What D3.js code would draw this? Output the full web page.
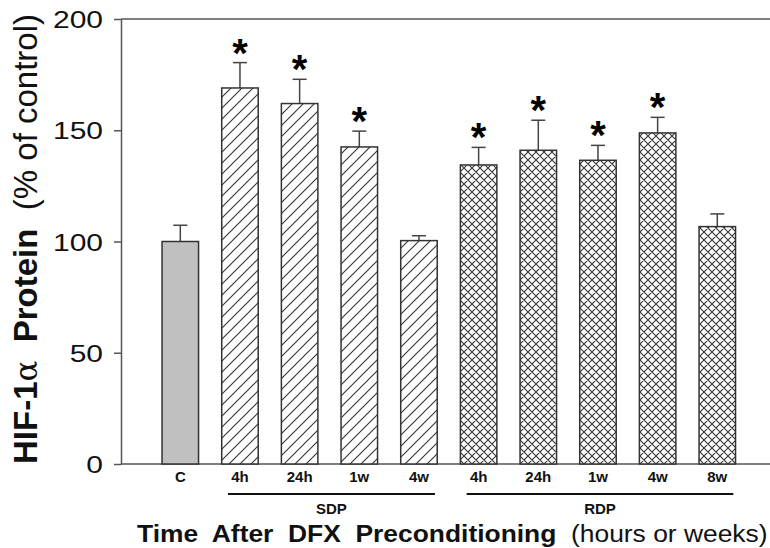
<!DOCTYPE html>
<html>
<head>
<meta charset="utf-8">
<script src="https://cdn.jsdelivr.net/npm/d3@7"></script>
<style>
  body { margin: 0; background: #fff; }
  svg { display: block; font-family: "Liberation Sans", Arial, sans-serif; }
</style>
</head>
<body>
<div id="chart"></div>
<script>
// chart values
const labels = ["C", "4h", "24h", "1w", "4w", "4h", "24h", "1w", "4w", "8w"];
const groups = ["C", "SDP", "SDP", "SDP", "SDP", "RDP", "RDP", "RDP", "RDP", "RDP"];
const means = [100, 169, 162, 142.5, 100.4, 134.4, 141, 136.5, 148.8, 106.7];
const errors = [7.3, 11.4, 10.9, 7.1, 2.2, 7.9, 13.5, 6.7, 7.0, 5.7];
const significant = [false, true, true, true, false, true, true, true, true, false];
const groupNames = ["SDP", "RDP"];
const yTicks = [0, 50, 100, 150, 200];

const width = 770, height = 548;
const plotLeft = 121, plotRight = 770, plotTop = 19, plotBottom = 464;

const svg = d3.select("#chart").append("svg")
    .attr("width", width)
    .attr("height", height);

// patterns for the two treatment groups
const defs = svg.append("defs");
const diag = defs.append("pattern")
    .attr("id", "diag")
    .attr("patternUnits", "userSpaceOnUse")
    .attr("width", 11).attr("height", 11);
diag.append("rect").attr("width", 11).attr("height", 11).attr("fill", "#fff");
diag.append("path")
    .attr("d", "M-3,3 l6,-6 M0,11 l11,-11 M8,14 l6,-6")
    .attr("stroke", "#333").attr("stroke-width", 1.1);

const cross = defs.append("pattern")
    .attr("id", "cross")
    .attr("patternUnits", "userSpaceOnUse")
    .attr("width", 8).attr("height", 8);
cross.append("rect").attr("width", 8).attr("height", 8).attr("fill", "#fff");
cross.append("path")
    .attr("d", "M-2,2 l4,-4 M0,8 l8,-8 M6,10 l4,-4 M-2,6 l4,4 M0,0 l8,8 M6,-2 l4,4")
    .attr("stroke", "#333").attr("stroke-width", 1.1);

const fillFor = g => g === "C" ? "#c0c0c0" : (g === "SDP" ? "url(#diag)" : "url(#cross)");

const x = d3.scalePoint()
    .domain(d3.range(labels.length))
    .range([180.3, 717.3]);
const barW = 36.5;

const y = d3.scaleLinear()
    .domain([0, 200])
    .range([plotBottom, plotTop]);

// frame: top line and bottom axis line
svg.append("line")
    .attr("x1", plotLeft).attr("x2", plotRight)
    .attr("y1", y(200)).attr("y2", y(200))
    .attr("stroke", "#555").attr("stroke-width", 1.5);
svg.append("line")
    .attr("x1", plotLeft).attr("x2", plotRight)
    .attr("y1", y(0)).attr("y2", y(0))
    .attr("stroke", "#555").attr("stroke-width", 1.5);

// y axis
const yAxis = svg.append("g")
    .attr("transform", `translate(${plotLeft},0)`)
    .call(d3.axisLeft(y).tickValues(yTicks).tickSize(7).tickSizeOuter(0));
yAxis.select(".domain").attr("stroke", "#555").attr("stroke-width", 1.5);
yAxis.selectAll(".tick line").attr("stroke", "#555").attr("stroke-width", 1.5);
yAxis.selectAll(".tick text")
    .attr("x", 0)
    .attr("dy", "0.36em")
    .attr("transform", "translate(-18,0) scale(1.25,1)")
    .style("font-size", "24px")
    .style("font-family", "Liberation Sans, Arial, sans-serif")
    .attr("fill", "#111");

// error bars (upper only)
const err = svg.append("g");
means.forEach((m, i) => {
    err.append("line")
        .attr("x1", x(i)).attr("x2", x(i))
        .attr("y1", y(m)).attr("y2", y(m + errors[i]))
        .attr("stroke", "#444").attr("stroke-width", 1.5);
    err.append("line")
        .attr("x1", x(i) - 7).attr("x2", x(i) + 7)
        .attr("y1", y(m + errors[i])).attr("y2", y(m + errors[i]))
        .attr("stroke", "#444").attr("stroke-width", 1.5);
});

// bars
svg.append("g").selectAll("rect")
    .data(means)
    .join("rect")
    .attr("x", (d, i) => x(i) - barW / 2)
    .attr("y", d => y(d))
    .attr("width", barW)
    .attr("height", d => y(0) - y(d))
    .attr("fill", (d, i) => fillFor(groups[i]))
    .attr("stroke", "#333")
    .attr("stroke-width", 1.5);

// significance stars
svg.append("g").selectAll("text")
    .data(means.map((m, i) => i).filter(i => significant[i]))
    .join("text")
    .attr("x", i => x(i))
    .attr("y", i => y(means[i] + errors[i]) + 4)
    .attr("text-anchor", "middle")
    .style("font-size", "40px")
    .style("font-weight", "bold")
    .text("*");

// category labels
svg.append("g").selectAll("text")
    .data(labels)
    .join("text")
    .attr("x", (d, i) => x(i))
    .attr("y", 482)
    .attr("text-anchor", "middle")
    .style("font-size", "15px")
    .style("font-weight", "bold")
    .attr("fill", "#111")
    .text(d => d);

// group underlines and names
groupNames.forEach(g => {
    const idx = groups.map((v, i) => v === g ? i : -1).filter(i => i >= 0);
    const x1 = x(idx[0]) - 12, x2 = x(idx[idx.length - 1]) + 16;
    svg.append("line")
        .attr("x1", x1).attr("x2", x2)
        .attr("y1", 494).attr("y2", 494)
        .attr("stroke", "#111").attr("stroke-width", 2);
    svg.append("text")
        .attr("x", (x1 + x2) / 2)
        .attr("y", 514)
        .attr("text-anchor", "middle")
        .style("font-size", "15px")
        .style("font-weight", "bold")
        .attr("fill", "#111")
        .text(g);
});

// x title
const xt = svg.append("text")
    .attr("transform", "translate(137,542) scale(1.1,1)")
    .style("font-size", "24px")
    .attr("fill", "#111")
    .attr("xml:space", "preserve");
xt.append("tspan").style("font-weight", "bold").text("Time  After  DFX  Preconditioning");
xt.append("tspan").text("  (hours or weeks)");

// y title
const yt = svg.append("text")
    .attr("transform", "translate(37,239) rotate(-90)")
    .attr("text-anchor", "middle")
    .style("font-size", "33px")
    .attr("fill", "#111")
    .attr("xml:space", "preserve");
yt.append("tspan").style("font-weight", "bold").text("HIF-1");
yt.append("tspan").style("font-family", "DejaVu Serif, serif").style("font-size", "31px").text("α");
yt.append("tspan").style("font-weight", "bold").text("  Protein");
yt.append("tspan").text("  (% of control)");
</script>
</body>
</html>
